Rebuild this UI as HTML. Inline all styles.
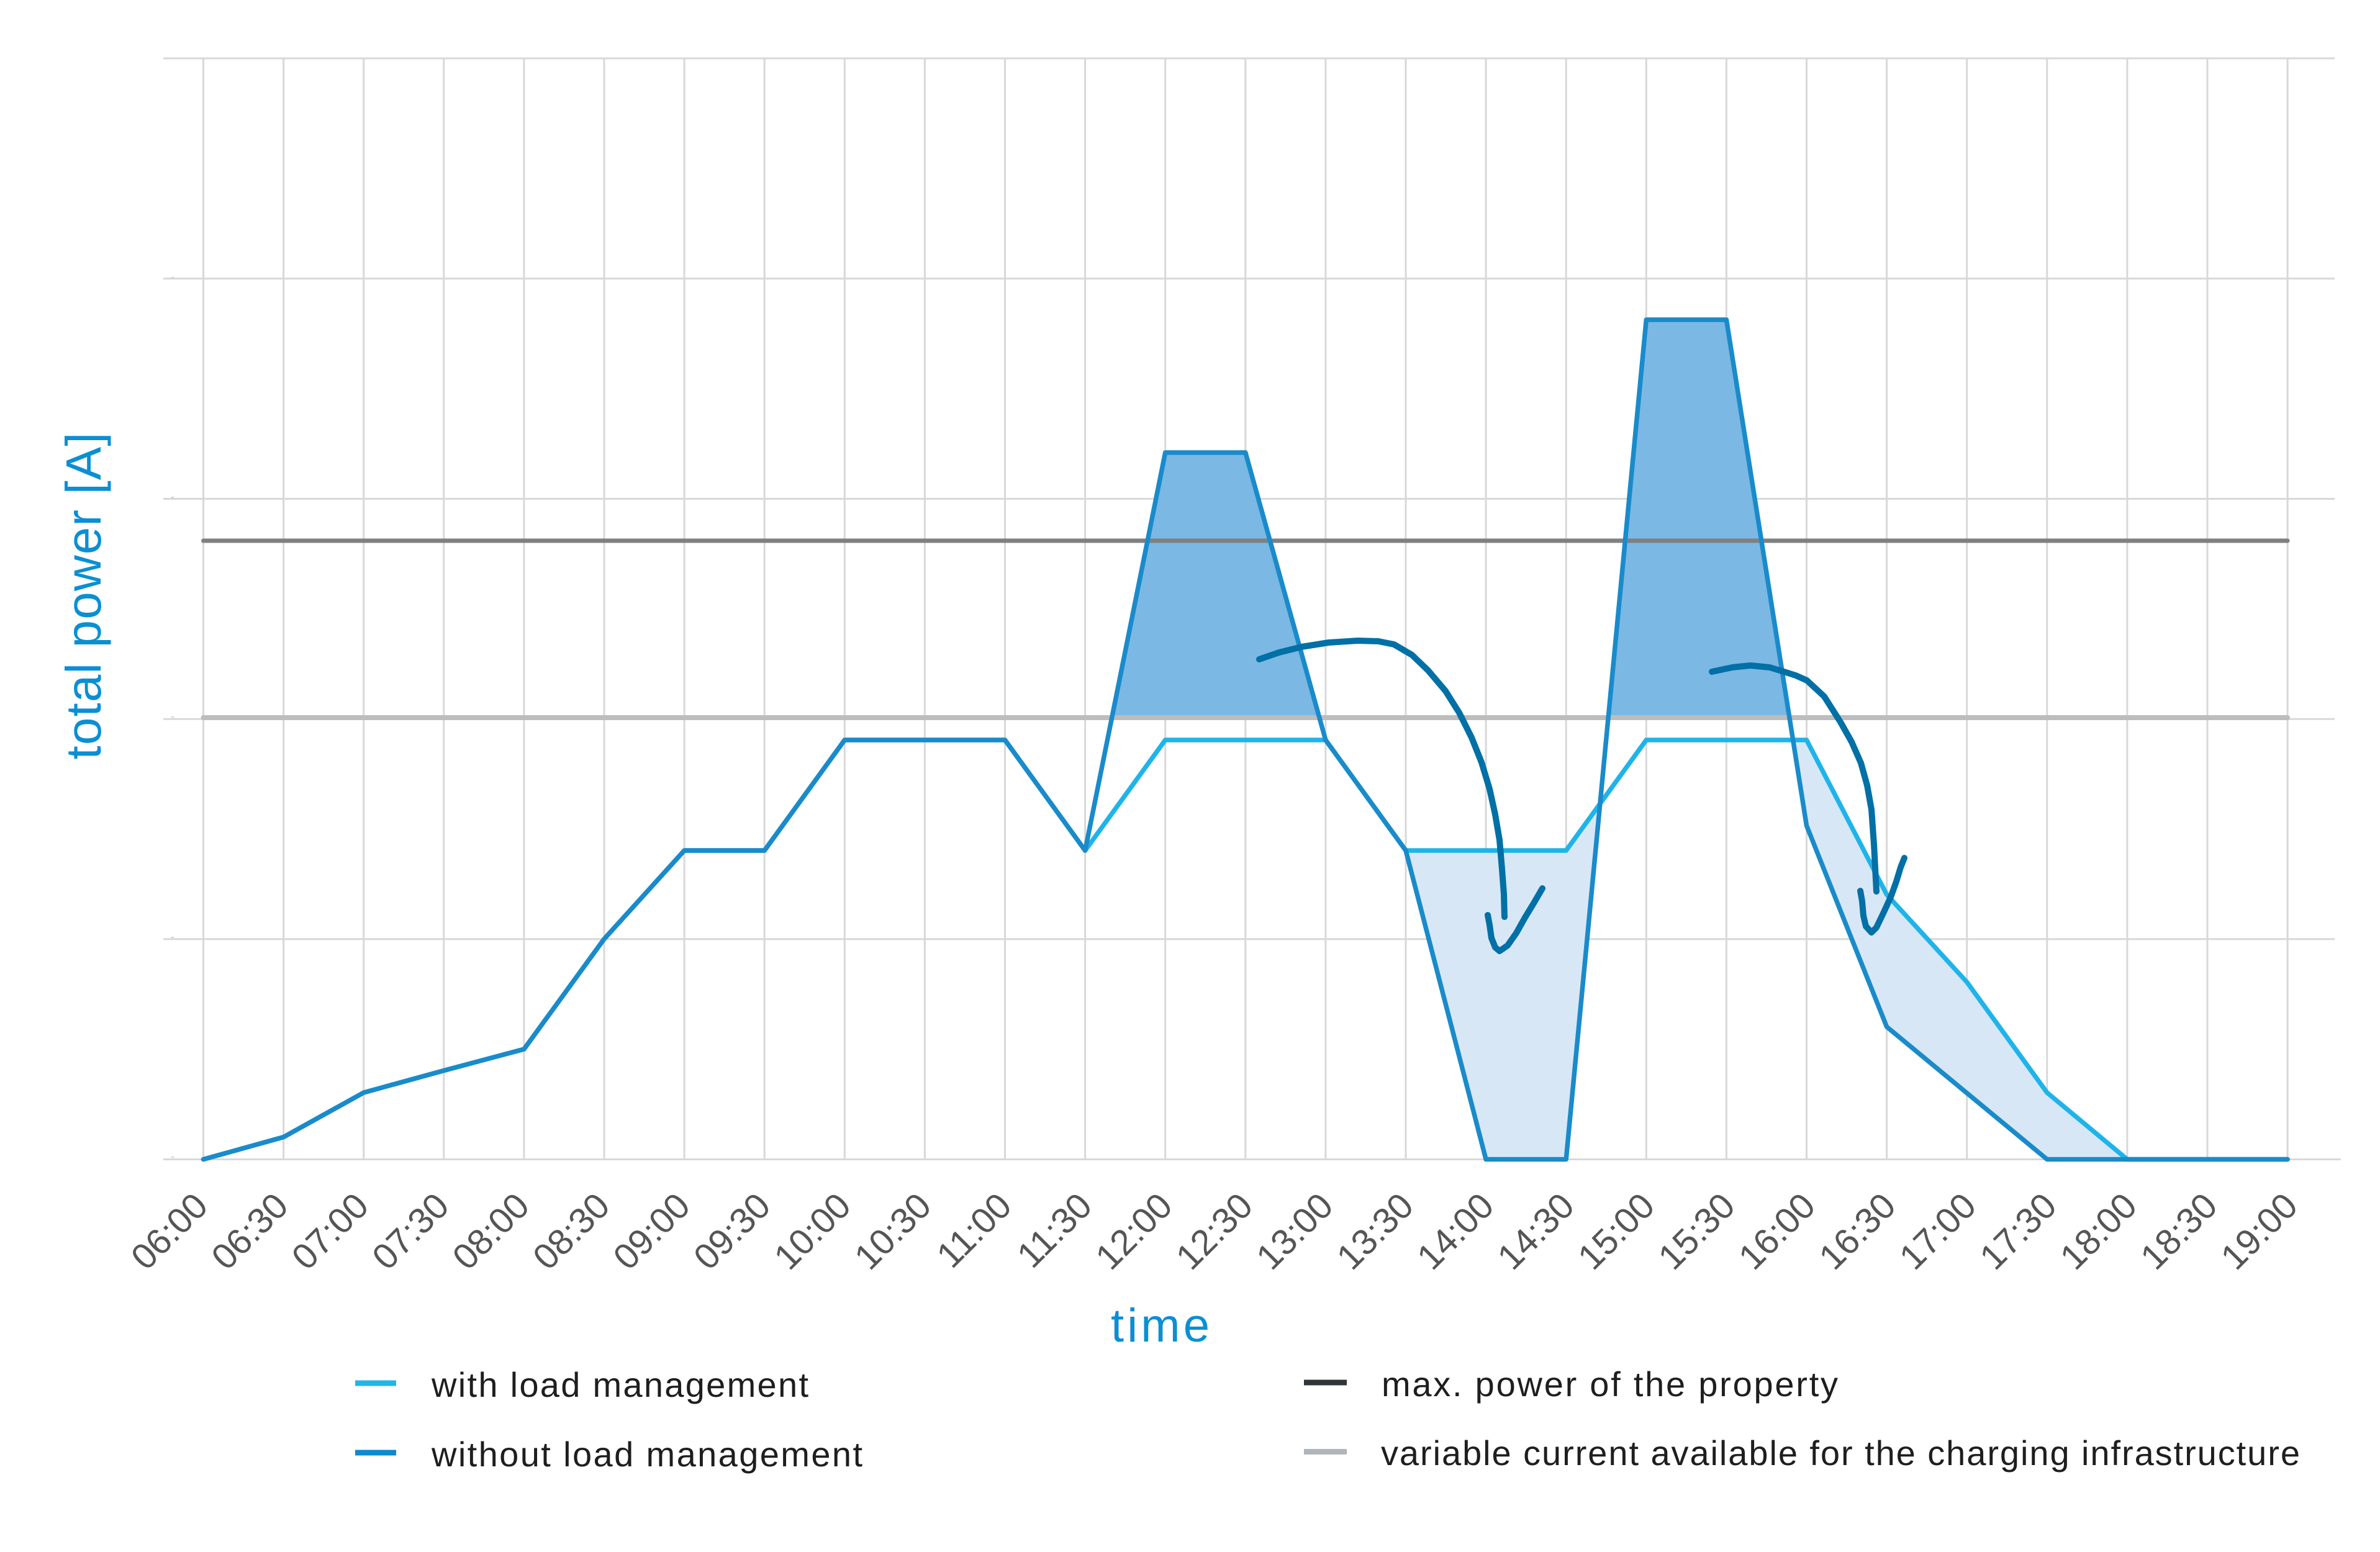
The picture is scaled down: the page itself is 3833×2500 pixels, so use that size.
<!DOCTYPE html>
<html><head><meta charset="utf-8"><style>
html,body{margin:0;padding:0;background:#fff;}
svg{display:block;}
text{font-family:"Liberation Sans",Arial,sans-serif;}
</style></head><body>
<svg width="3833" height="2500" viewBox="0 0 3833 2500" xmlns="http://www.w3.org/2000/svg">
<rect width="3833" height="2500" fill="#fff"/>
<!-- horizontal gridlines -->
<g stroke="#d8d8d8" stroke-width="3">
<line x1="263" y1="94" x2="3760" y2="94"/>
<line x1="263" y1="448.8" x2="3760" y2="448.8"/>
<line x1="263" y1="803.5" x2="3760" y2="803.5"/>
<line x1="263" y1="1158.2" x2="3760" y2="1158.2"/>
<line x1="263" y1="1512.8" x2="3760" y2="1512.8"/>
<line x1="263" y1="1867.5" x2="3770" y2="1867.5"/>
</g>
<!-- vertical gridlines -->
<g stroke="#d8d8d8" stroke-width="3">
<line x1="327.5" y1="94" x2="327.5" y2="1867"/>
<line x1="456.6" y1="94" x2="456.6" y2="1867"/>
<line x1="585.7" y1="94" x2="585.7" y2="1867"/>
<line x1="714.8" y1="94" x2="714.8" y2="1867"/>
<line x1="843.9" y1="94" x2="843.9" y2="1867"/>
<line x1="973" y1="94" x2="973" y2="1867"/>
<line x1="1102.1" y1="94" x2="1102.1" y2="1867"/>
<line x1="1231.2" y1="94" x2="1231.2" y2="1867"/>
<line x1="1360.3" y1="94" x2="1360.3" y2="1867"/>
<line x1="1489.4" y1="94" x2="1489.4" y2="1867"/>
<line x1="1618.5" y1="94" x2="1618.5" y2="1867"/>
<line x1="1747.6" y1="94" x2="1747.6" y2="1867"/>
<line x1="1876.7" y1="94" x2="1876.7" y2="1867"/>
<line x1="2005.8" y1="94" x2="2005.8" y2="1867"/>
<line x1="2134.9" y1="94" x2="2134.9" y2="1867"/>
<line x1="2264" y1="94" x2="2264" y2="1867"/>
<line x1="2393.1" y1="94" x2="2393.1" y2="1867"/>
<line x1="2522.2" y1="94" x2="2522.2" y2="1867"/>
<line x1="2651.3" y1="94" x2="2651.3" y2="1867"/>
<line x1="2780.4" y1="94" x2="2780.4" y2="1867"/>
<line x1="2909.5" y1="94" x2="2909.5" y2="1867"/>
<line x1="3038.6" y1="94" x2="3038.6" y2="1867"/>
<line x1="3167.7" y1="94" x2="3167.7" y2="1867"/>
<line x1="3296.8" y1="94" x2="3296.8" y2="1867"/>
<line x1="3425.9" y1="94" x2="3425.9" y2="1867"/>
<line x1="3555" y1="94" x2="3555" y2="1867"/>
<line x1="3684.1" y1="94" x2="3684.1" y2="1867"/>
</g>
<!-- tiny y tick specks -->
<g fill="#cfcfcf">
<rect x="276" y="446" width="4" height="2"/>
<rect x="276" y="800" width="4" height="2"/>
<rect x="276" y="1154" width="4" height="2"/>
<rect x="276" y="1509" width="4" height="2"/>
<rect x="276" y="1863" width="4" height="2"/>
</g>
<!-- fills -->
<g fill="#7bb8e4">
<polygon points="1790.7,1156 1876.7,729 2005.8,729 2124.9,1156"/>
<polygon points="2590.1,1156 2651.3,515 2780.4,515 2881.9,1156"/>
</g>
<g fill="#d8e7f6">
<polygon points="2264,1370 2522.2,1370 2576.9,1294.6 2522.2,1867.5 2393.1,1867.5"/>
<polygon points="2887.6,1192 2909.5,1192 3038.6,1441 3167.7,1582 3296.8,1760 3425.9,1867.5 3296.8,1867.5 3038.6,1654 2909.5,1330"/>
</g>
<!-- reference lines -->
<line x1="327.5" y1="871" x2="3684.1" y2="871" stroke="#808080" stroke-width="7" stroke-linecap="round"/>
<line x1="327.5" y1="1156" x2="3684.1" y2="1156" stroke="#bdbdbd" stroke-width="8" stroke-linecap="round"/>
<!-- with load management -->
<polyline fill="none" stroke="#1fb4e9" stroke-width="7.5" stroke-linejoin="round" stroke-linecap="round"
points="327.5,1867.5 456.6,1831.6 585.7,1760 714.8,1724.5 843.9,1690 973,1512.5 1102.1,1370 1231.2,1370 1360.3,1192 1489.4,1192 1618.5,1192 1747.6,1370 1876.7,1192 2005.8,1192 2134.9,1192 2264,1370 2393.1,1370 2522.2,1370 2651.3,1192 2780.4,1192 2909.5,1192 3038.6,1441 3167.7,1582 3296.8,1760 3425.9,1867.5 3684.1,1867.5"/>
<!-- without load management -->
<polyline fill="none" stroke="#1a8bca" stroke-width="7.5" stroke-linejoin="round" stroke-linecap="round"
points="327.5,1867.5 456.6,1831.6 585.7,1760 714.8,1724.5 843.9,1690 973,1512.5 1102.1,1370 1231.2,1370 1360.3,1192 1489.4,1192 1618.5,1192 1747.6,1370 1876.7,729 2005.8,729 2134.9,1192 2264,1370 2393.1,1867.5 2522.2,1867.5 2651.3,515 2780.4,515 2909.5,1330 3038.6,1654 3296.8,1867.5 3684.1,1867.5"/>
<!-- arrows -->
<g fill="none" stroke="#0070a6" stroke-width="10" stroke-linejoin="round" stroke-linecap="round">
<polyline points="2028,1062 2060,1051 2096,1042 2140,1035 2187,1032 2220,1033 2245,1038 2274,1055 2300,1080 2328,1113 2350,1148 2370,1188 2386,1228 2399,1271 2408,1312 2415,1353 2419,1400 2422,1440 2423,1477"/>
<polyline points="2396,1474 2399,1490 2402,1511 2408,1526 2415,1532 2428,1523 2442,1503 2456,1478 2470,1455 2484,1431"/>
<polyline points="2757,1082 2790,1075 2819,1072 2850,1075 2873,1082 2892,1088 2910,1096 2938,1122 2964,1163 2982,1195 2997,1229 3007,1265 3014,1304 3018,1360 3022,1436"/>
<polyline points="2996,1435 2999,1452 3001,1475 3005,1492 3014,1502 3022,1494 3034,1469 3045,1445 3054,1420 3061,1397 3067,1382"/>
</g>
<!-- x tick labels -->
<g fill="#555555" font-size="58" text-anchor="end">
<text transform="translate(338,1946) rotate(-45)">06:00</text>
<text transform="translate(467.5,1946) rotate(-45)">06:30</text>
<text transform="translate(596.9,1946) rotate(-45)">07:00</text>
<text transform="translate(726.4,1946) rotate(-45)">07:30</text>
<text transform="translate(855.8,1946) rotate(-45)">08:00</text>
<text transform="translate(985.3,1946) rotate(-45)">08:30</text>
<text transform="translate(1114.7,1946) rotate(-45)">09:00</text>
<text transform="translate(1244.2,1946) rotate(-45)">09:30</text>
<text transform="translate(1373.6,1946) rotate(-45)">10:00</text>
<text transform="translate(1503.1,1946) rotate(-45)">10:30</text>
<text transform="translate(1632.5,1946) rotate(-45)">11:00</text>
<text transform="translate(1762,1946) rotate(-45)">11:30</text>
<text transform="translate(1891.4,1946) rotate(-45)">12:00</text>
<text transform="translate(2020.9,1946) rotate(-45)">12:30</text>
<text transform="translate(2150.3,1946) rotate(-45)">13:00</text>
<text transform="translate(2279.8,1946) rotate(-45)">13:30</text>
<text transform="translate(2409.2,1946) rotate(-45)">14:00</text>
<text transform="translate(2538.7,1946) rotate(-45)">14:30</text>
<text transform="translate(2668.1,1946) rotate(-45)">15:00</text>
<text transform="translate(2797.6,1946) rotate(-45)">15:30</text>
<text transform="translate(2927,1946) rotate(-45)">16:00</text>
<text transform="translate(3056.5,1946) rotate(-45)">16:30</text>
<text transform="translate(3185.9,1946) rotate(-45)">17:00</text>
<text transform="translate(3315.4,1946) rotate(-45)">17:30</text>
<text transform="translate(3444.8,1946) rotate(-45)">18:00</text>
<text transform="translate(3574.3,1946) rotate(-45)">18:30</text>
<text transform="translate(3703.7,1946) rotate(-45)">19:00</text>
</g>
<!-- axis titles -->
<text transform="translate(162,960) rotate(-90)" text-anchor="middle" font-size="80" fill="#0a8fd4" textLength="527">total power [A]</text>
<text x="1789" y="2161" font-size="76" fill="#0a8fd4" textLength="159">time</text>
<!-- legend -->
<rect x="572" y="2223.5" width="66" height="9" fill="#22b5e8"/>
<rect x="572" y="2335.5" width="66" height="9" fill="#0a8ad0"/>
<rect x="2100" y="2222.5" width="69" height="9" fill="#2f3538"/>
<rect x="2100" y="2334" width="69" height="9" fill="#b0b5b9"/>
<g fill="#1e1e1e" font-size="56">
<text x="695" y="2250" textLength="607">with load management</text>
<text x="695" y="2362" textLength="694">without load management</text>
<text x="2225" y="2249" textLength="735">max. power of the property</text>
<text x="2224" y="2360" textLength="1480">variable current available for the charging infrastructure</text>
</g>
</svg>
</body></html>
